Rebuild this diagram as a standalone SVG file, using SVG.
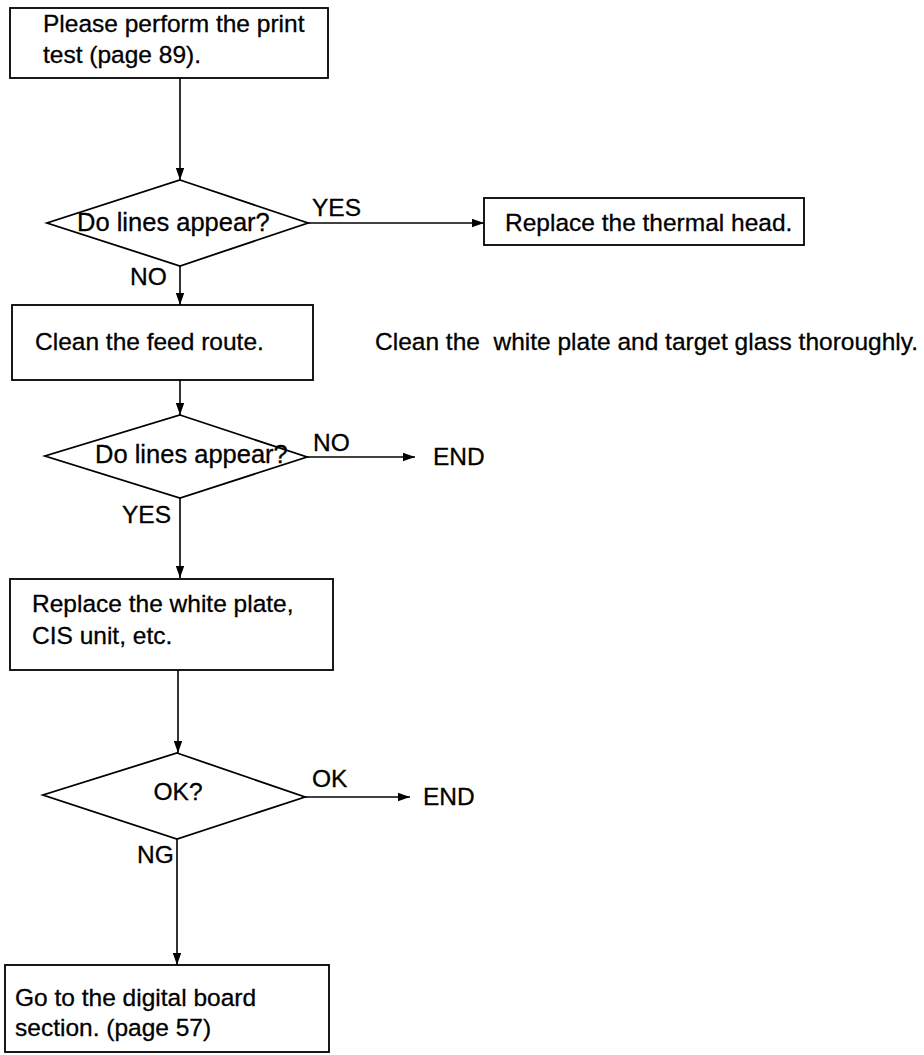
<svg xmlns="http://www.w3.org/2000/svg" width="924" height="1055" viewBox="0 0 924 1055">
  <style>
    .shape { fill: #fff; stroke: #000; stroke-width: 1.8; }
    .link { fill: none; stroke: #000; stroke-width: 1.6; }
    text { font-family: "Liberation Sans", Arial, Helvetica, sans-serif; font-size: 24.5px; fill: #000; stroke: #000; stroke-width: 0.3; white-space: pre; }
    .q { font-size: 25.5px; }
  </style>
  <defs>
    <marker id="arrow" markerUnits="userSpaceOnUse" markerWidth="13" markerHeight="10" refX="12" refY="5" orient="auto">
      <path d="M0,0.8 L12,5 L0,9.2 Z" fill="#000"/>
    </marker>
  </defs>
  <rect width="924" height="1055" fill="#fff"/>

  <!-- connectors and their branch labels -->
  <g id="connectors">
    <line class="link" x1="180" y1="78" x2="180" y2="180" marker-end="url(#arrow)"/>
    <line class="link" x1="308" y1="223" x2="484" y2="223" marker-end="url(#arrow)"/>
    <line class="link" x1="180" y1="266" x2="180" y2="305" marker-end="url(#arrow)"/>
    <line class="link" x1="180" y1="380" x2="180" y2="415" marker-end="url(#arrow)"/>
    <line class="link" x1="307" y1="457" x2="415" y2="457" marker-end="url(#arrow)"/>
    <line class="link" x1="180" y1="498" x2="180" y2="578" marker-end="url(#arrow)"/>
    <line class="link" x1="178" y1="670" x2="178" y2="753" marker-end="url(#arrow)"/>
    <line class="link" x1="305" y1="797" x2="410" y2="797" marker-end="url(#arrow)"/>
    <line class="link" x1="177" y1="839" x2="177" y2="965" marker-end="url(#arrow)"/>
    <text x="312" y="216">YES</text>
    <text x="130" y="285">NO</text>
    <text x="313" y="451">NO</text>
    <text x="433" y="465">END</text>
    <text x="122" y="523">YES</text>
    <text x="312" y="787">OK</text>
    <text x="423" y="805">END</text>
    <text x="137" y="863">NG</text>
  </g>

  <g id="print-test">
    <rect class="shape" x="10" y="8" width="318" height="70"/>
    <text x="43" y="32">Please perform the print</text>
    <text x="43" y="63">test (page 89).</text>
  </g>

  <g id="lines-check-1">
    <polygon class="shape" points="180,180 308,223 180,266 47,223"/>
    <text class="q" x="77" y="231">Do lines appear?</text>
  </g>

  <g id="replace-head">
    <rect class="shape" x="484" y="198" width="320" height="47"/>
    <text x="505" y="231">Replace the thermal head.</text>
  </g>

  <g id="clean-route">
    <rect class="shape" x="12" y="305" width="301" height="75"/>
    <text x="35" y="350">Clean the feed route.</text>
  </g>

  <g id="clean-note">
    <text x="375" y="350">Clean the  white plate and target glass thoroughly.</text>
  </g>

  <g id="lines-check-2">
    <polygon class="shape" points="180,415 307,457 180,498 45,456"/>
    <text class="q" x="95" y="463">Do lines appear?</text>
  </g>

  <g id="replace-plate">
    <rect class="shape" x="10" y="579" width="323" height="91"/>
    <text x="32" y="612">Replace the white plate,</text>
    <text x="32" y="644">CIS unit, etc.</text>
  </g>

  <g id="ok-check">
    <polygon class="shape" points="177,753 305,797 177,839 43,795"/>
    <text x="178" y="800" text-anchor="middle">OK?</text>
  </g>

  <g id="digital-board">
    <rect class="shape" x="5" y="965" width="324" height="87"/>
    <text x="15" y="1006">Go to the digital board</text>
    <text x="15" y="1036">section. (page 57)</text>
  </g>
</svg>
